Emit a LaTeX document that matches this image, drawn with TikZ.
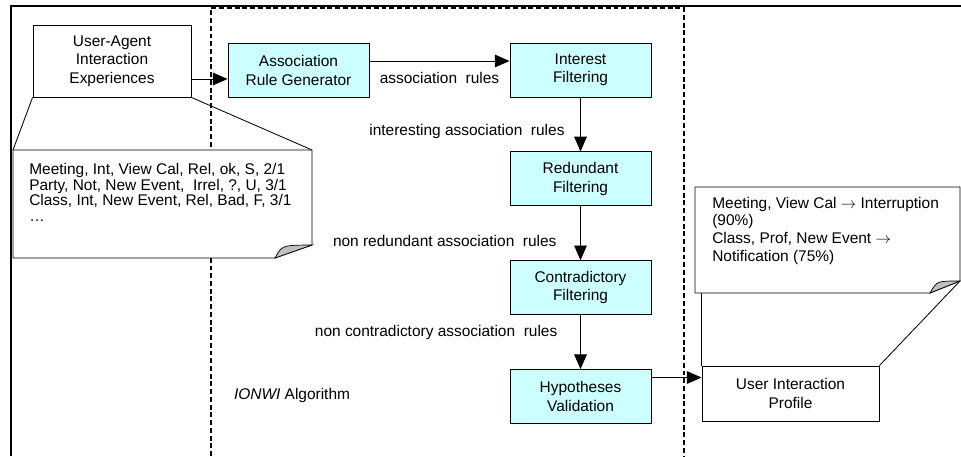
\documentclass[tikz,border=0pt]{standalone}
\usepackage{fontspec}
\setmainfont{Liberation Sans}
\usetikzlibrary{calc, arrows.meta, positioning}
\usepackage{xcolor}
\definecolor{stagecyan}{HTML}{CCFFFF}
\definecolor{curlgray}{gray}{0.75}

\tikzset{
  stage/.style={draw, line width=0.6pt, fill=stagecyan, minimum width=3.525cm,
    minimum height=1.35cm, align=center, font=\fontsize{11}{13.2}\selectfont},
  plainbox/.style={draw, line width=0.6pt, fill=white, align=center,
    font=\fontsize{11}{13.2}\selectfont},
  flow/.style={line width=0.7pt, -{Triangle[length=10.5pt,width=9pt]}},
  note/.style={line width=0.6pt},
  lbl/.style={font=\fontsize{11}{13.2}\selectfont}
}

\begin{document}
\begin{tikzpicture}
  \useasboundingbox (0,0) rectangle (24.025,11.4);

  % outer frame and algorithm boundary
  \draw[line width=1.4pt] (0.275,0) -- (0.275,11.25) -- (24.025,11.25);
  \draw[line width=1pt, dash pattern=on 3.5pt off 2pt]
    (5.275,0) -- (5.275,11.2) -- (17.1,11.2) -- (17.1,0);

  \node[plainbox, minimum width=3.95cm, minimum height=1.8cm] (exp) at (2.8,9.875)
    {User-Agent\\Interaction\\Experiences};
  \node[plainbox, minimum width=4.425cm, minimum height=1.375cm] (uip) at (19.7625,1.5625)
    {User Interaction\\Profile};

  % callout with the experiences
  \coordinate (logtl) at (0.325,7.65);
  \coordinate (logbr) at (7.8,4.95);
  \draw[note] (exp.south west) -- (logtl);
  \draw[note] (exp.south east) -- (logtl -| logbr);
  \filldraw[note, fill=white] (logtl) -| ($(logbr)+(0,0.325)$) -- ($(logbr)+(-0.925,0)$)
    -- (logtl |- logbr) -- cycle;
  \filldraw[line width=0.5pt, fill=curlgray] ($(logbr)+(-0.925,0)$)
    .. controls ($(logbr)+(-0.75,0.32)$) .. ($(logbr)+(0,0.325)$) -- cycle;
  \node[anchor=north west, inner sep=0, align=left, font=\fontsize{11}{11.2}\selectfont]
    (logtxt) at (0.725,7.33)
    {Meeting, Int, View Cal, Rel, ok, S, 2/1\\
     Party, Not, New Event,\ \ Irrel, ?, U, 3/1\\
     Class, Int, New Event, Rel, Bad, F, 3/1\\
     …};

  % callout with the profile
  \coordinate (proftl) at (17.375,6.725);
  \coordinate (profbr) at (24.04,4.075);
  \coordinate (proftip) at (24.0,4.375);
  \draw[note] (uip.north west) -- (uip.north west |- profbr);
  \draw[note] (uip.north east) -- (proftip);
  \filldraw[note, fill=white] (proftl) -| (proftip) -- ($(profbr)+(-0.79,0)$)
    -- (proftl |- profbr) -- cycle;
  \filldraw[line width=0.5pt, fill=curlgray] ($(profbr)+(-0.79,0)$)
    .. controls ($(profbr)+(-0.62,0.3)$) .. (proftip) -- cycle;
  \node[anchor=north west, inner sep=0, align=left, font=\fontsize{11}{12.6}\selectfont]
    (proftxt) at (17.8,6.48)
    {Meeting, View Cal $\rightarrow$ Interruption\\
     (90\%)\\
     Class, Prof, New Event $\rightarrow$\\
     Notification (75\%)};

  % algorithm stages
  \node[stage] (gen) at (7.4625,9.6375) {Association\\Rule Generator};
  \node[stage] (int) at (14.5125,9.65) {Interest\\Filtering};
  \node[stage, below=1.35cm of int] (red) {Redundant\\Filtering};
  \node[stage, below=1.35cm of red] (con) {Contradictory\\Filtering};
  \node[stage, below=1.35cm of con] (hyp) {Hypotheses\\Validation};

  \coordinate (j1) at ([yshift=-0.2125cm]gen.west);
  \coordinate (j2) at ([yshift=0.2375cm]gen.east);
  \coordinate (j3) at ([yshift=0.475cm]hyp.east);
  \draw[flow] (exp.east |- j1) -- (j1);
  \draw[flow] (j2) -- (j2 -| int.west)
    node[lbl, midway, below=4pt] {association\ \ rules};
  \draw[flow] (int) -- (red)
    node[lbl, pos=0.63, left=0.27cm] {interesting association\ \ rules};
  \draw[flow] (red) -- (con)
    node[lbl, pos=0.65, left=0.47cm] {non redundant association\ \ rules};
  \draw[flow] (con) -- (hyp)
    node[lbl, pos=0.32, left=0.45cm] {non contradictory association\ \ rules};
  \draw[flow] (j3) -- (j3 -| uip.west);

  \node[lbl] (algo) at (7.3,1.5) {\textit{IONWI} Algorithm};
\end{tikzpicture}
\end{document}
